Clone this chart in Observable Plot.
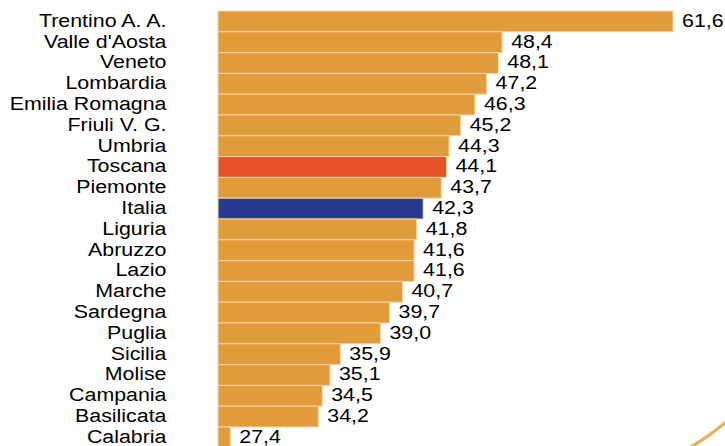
<!DOCTYPE html>
<html>
<head>
<meta charset="utf-8">
<script src="https://cdn.jsdelivr.net/npm/d3@7"></script>
<script src="https://cdn.jsdelivr.net/npm/@observablehq/plot@0.6"></script>
<style>
  html, body { margin: 0; padding: 0; background: #fff; }
  #chart svg { display: block; }
</style>
</head>
<body>
<div id="chart"></div>
<script>
const regions = ["Trentino A. A.", "Valle d'Aosta", "Veneto", "Lombardia", "Emilia Romagna", "Friuli V. G.", "Umbria", "Toscana", "Piemonte", "Italia", "Liguria", "Abruzzo", "Lazio", "Marche", "Sardegna", "Puglia", "Sicilia", "Molise", "Campania", "Basilicata", "Calabria"];
const values = [61.6, 48.4, 48.1, 47.2, 46.3, 45.2, 44.3, 44.1, 43.7, 42.3, 41.8, 41.6, 41.6, 40.7, 39.7, 39.0, 35.9, 35.1, 34.5, 34.2, 27.4];
const valueLabels = ["61,6", "48,4", "48,1", "47,2", "46,3", "45,2", "44,3", "44,1", "43,7", "42,3", "41,8", "41,6", "41,6", "40,7", "39,7", "39,0", "35,9", "35,1", "34,5", "34,2", "27,4"];

const data = regions.map((r, i) => ({region: r, value: values[i], label: valueLabels[i]}));

const xMin = 26.45;
const ORANGE = "#E29B3B", RED = "#E65227", BLUE = "#273A8C";
const fillOf = d => d.region === "Toscana" ? RED : d.region === "Italia" ? BLUE : ORANGE;

const decoArc = () => {
  const p = d3.create("svg:path")
    .attr("d", "M 682 452 A 254 254 0 0 0 735 414")
    .attr("fill", "none")
    .attr("stroke", "#EBAD5A")
    .attr("stroke-width", 3.2);
  return p.node();
};

const chart = Plot.plot({
  width: 725,
  height: 446,
  marginLeft: 218,
  marginRight: 52,
  marginTop: 11,
  marginBottom: 0,
  style: {fontFamily: "'Liberation Sans', Arial, sans-serif", fontSize: "18.6px", color: "#000", background: "#fff"},
  x: {domain: [xMin, 61.6], axis: null},
  y: {domain: regions, range: [11, 447.8], padding: 0, round: false, axis: null},
  marks: [
    Plot.barX(data, {x1: () => xMin, x2: "value", y: "region", fill: fillOf, stroke: "#F7D5A3", strokeWidth: 1}),
    Plot.text(data, {x: () => xMin, y: "region", text: "region", textAnchor: "end", dx: -52, dy: -1, fill: "#000", fontSize: 18.6}),
    Plot.text(data, {x: "value", y: "region", text: "label", textAnchor: "start", dx: 8.5, dy: -1, fill: "#000", fontSize: 18.6}),
    decoArc
  ]
});
// stretch glyphs horizontally like the reference (text anchored at its x)
chart.querySelectorAll("text").forEach(t => {
  let x = t.getAttribute("x");
  let tr = t.getAttribute("transform") || "";
  let ax = 0;
  if (x != null) ax = +x;
  else {
    const m = /translate\(([-\d.e]+)/.exec(tr);
    if (m) ax = +m[1];
  }
  t.setAttribute("transform", `translate(${ax},0) scale(1.15,1) translate(${-ax},0) ${tr}`);
});
document.getElementById("chart").appendChild(chart);
</script>
</body>
</html>
